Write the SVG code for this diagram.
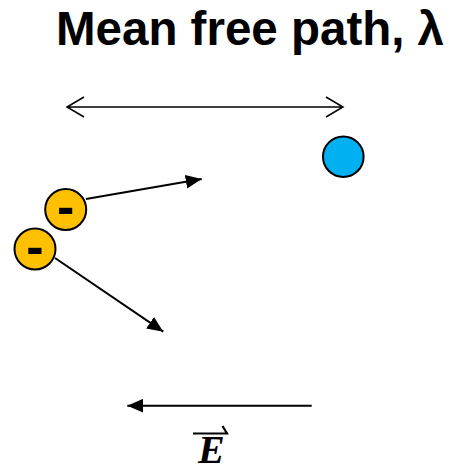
<svg xmlns="http://www.w3.org/2000/svg" width="454" height="472" viewBox="0 0 454 472">
<defs>
<style>
.title{font-family:"Liberation Sans",Arial,sans-serif;font-weight:bold;font-size:47.5px;fill:#000}
.minus{font-family:"Liberation Sans",Arial,sans-serif;font-weight:bold;font-size:52px;fill:#000;text-anchor:middle}
.elec{fill:#FFC000;stroke:#000;stroke-width:2}
.atom{fill:#00B0F0;stroke:#000;stroke-width:2}
.ln{stroke:#000;stroke-width:2;fill:none}
.thin{stroke:#000;stroke-width:1.5;fill:none}
.evec{font-family:"Liberation Serif","Times New Roman",serif;font-weight:bold;font-style:italic;font-size:40px;fill:#000}
</style>
<marker id="tri" viewBox="0 0 16 14" refX="16" refY="7" markerWidth="16" markerHeight="14" markerUnits="userSpaceOnUse" orient="auto">
<path d="M0,0 L16,7 L0,14 Z" fill="#000"/>
</marker>
</defs>
<g id="title"><text class="title" x="56" y="45">Mean free path, λ</text></g>
<g id="mfp-arrow">
<path class="thin" d="M67,107 H343 M84,97 L67,107 L84,117 M326,97 L343,107 L326,117"/>
</g>
<g id="atom"><circle class="atom" cx="343.3" cy="156.7" r="20.3"/></g>
<g id="electron1"><circle class="elec" cx="65.7" cy="209.5" r="20.5"/><text class="minus" x="65.7" y="224">-</text></g>
<g id="electron2"><circle class="elec" cx="35" cy="249" r="20.5"/><text class="minus" x="35" y="263.5">-</text></g>
<g id="connectors">
<line class="ln" x1="86" y1="199" x2="201.7" y2="179" marker-end="url(#tri)"/>
<line class="ln" x1="55" y1="258" x2="163.3" y2="331.7" marker-end="url(#tri)"/>
<line class="ln" x1="311.7" y1="405.7" x2="127.3" y2="405.7" marker-end="url(#tri)"/>
</g>
<g id="efield-label">
<text class="evec" x="198" y="463">E</text>
<path d="M193,433.5 H227 L222.5,426" stroke="#000" stroke-width="2.2" fill="none"/>
</g>
</svg>
